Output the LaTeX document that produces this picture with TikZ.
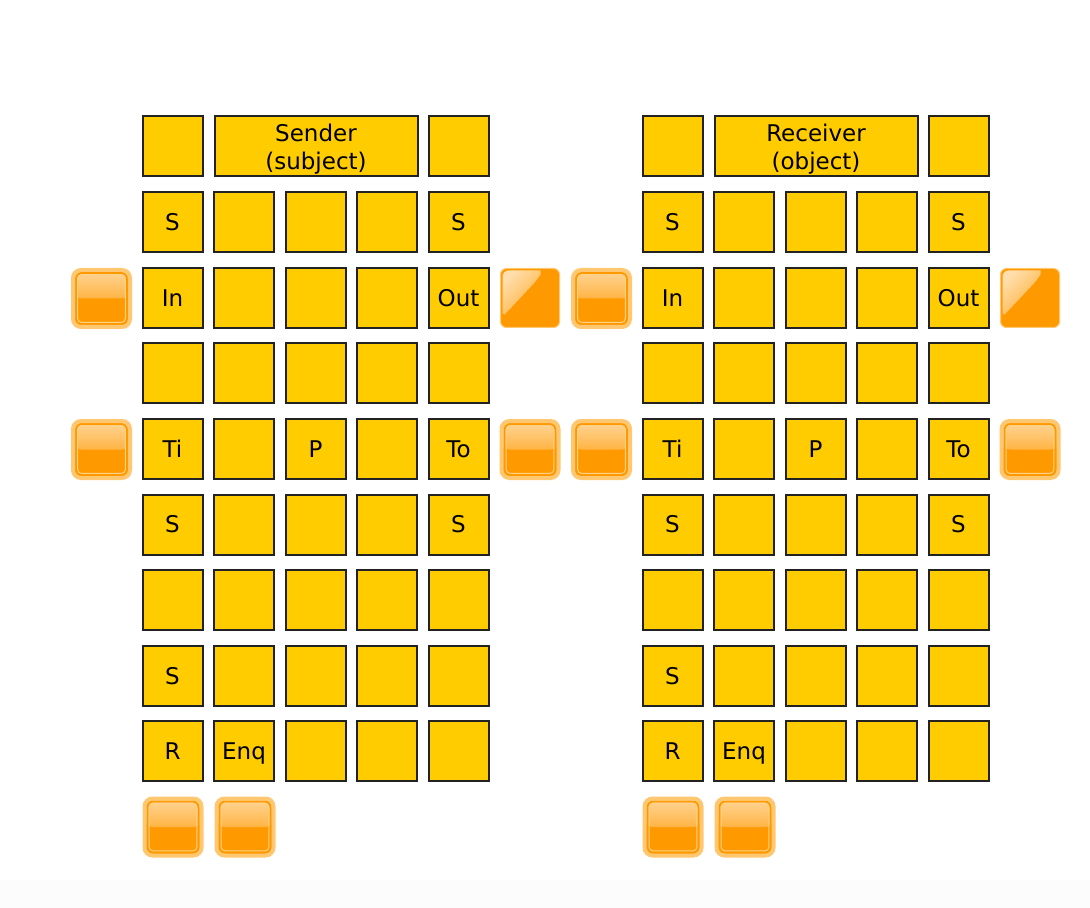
\documentclass[tikz,border=0pt]{standalone}
\usepackage{fontspec}
\setmainfont{DejaVu Sans}
\usetikzlibrary{calc}
\definecolor{cellfill}{HTML}{FFCC00}
\definecolor{cellline}{HTML}{222222}
\definecolor{btndark}{HTML}{FF9900}
\definecolor{btnhalo}{HTML}{FFC770}
\definecolor{btntop}{HTML}{FFD699}
\definecolor{btnmid}{HTML}{FFB443}
\definecolor{btnglow}{HTML}{FFD28A}
\definecolor{shine}{HTML}{FFEBCC}
\definecolor{bgstrip}{HTML}{FCFCFC}
\tikzset{
  cell/.style={draw=cellline, fill=cellfill, line width=1pt, minimum size=30pt,
    inner sep=0pt, align=center, font=\fontsize{11.5}{14}\selectfont},
  celltext/.style={text height=8.4pt, text depth=0pt},
  btn/.style={draw=btnhalo, fill=btndark, line width=2pt, rounded corners=4pt,
    minimum size=28.5pt, inner sep=0pt,
    path picture={
      \coordinate (p) at (path picture bounding box.north west);
      \coordinate (q) at (path picture bounding box.south east);
      \shade[top color=btntop, bottom color=btnmid] (p) rectangle ($(q)+(0,14.25pt)$);
      \draw[btndark, line width=1pt, rounded corners=3pt] ($(p)+(1.5pt,-1.5pt)$) rectangle ($(q)+(-1.5pt,1.5pt)$);
      \draw[btnglow, line width=0.5pt, rounded corners=2pt] ($(p)+(2.3pt,-2.3pt)$) rectangle ($(q)+(-2.3pt,2.3pt)$);
    }},
  btnflat/.style={draw=btnhalo, fill=btndark, line width=0.5pt, rounded corners=3pt,
    minimum size=29.5pt, inner sep=0pt,
    path picture={
      \coordinate (p) at (path picture bounding box.north west);
      \shade[top color=shine, bottom color=btnmid, shading angle=45, opacity=0.85]
        ($(p)+(1pt,-1pt)$) -- ($(p)+(17pt,-1pt)$)
        .. controls ($(p)+(20pt,-1pt)$) and ($(p)+(20pt,-3pt)$) .. ($(p)+(18.5pt,-5.5pt)$)
        -- ($(p)+(4pt,-21pt)$)
        .. controls ($(p)+(2.5pt,-22.5pt)$) and ($(p)+(1pt,-22pt)$) .. ($(p)+(1pt,-20pt)$) -- cycle;
    }},
}
\begin{document}
\begin{tikzpicture}[x=0.5pt,y=-0.5pt]
  \useasboundingbox (0,0) rectangle (1090,908);
  \fill[bgstrip] (0,880) rectangle (1090,908);

  \foreach \sd/\dx/\title in {s/0/{Sender\\(subject)},r/500/{Receiver\\(object)}}{
    \node[cell] (\sd-0-0) at (172.5+\dx,146.5) {};
    \node[cell,minimum width=101.5pt,text depth=0pt] (\sd-head) at (316+\dx,146.5) {\title};
    \node[cell] (\sd-0-4) at (458.5+\dx,146.5) {};
    \foreach \r/\labels in {1/{S,{},{},{},S},2/{In,{},{},{},Out},3/{{},{},{},{},{}},
        4/{Ti,{},P,{},To},5/{S,{},{},{},S},6/{{},{},{},{},{}},7/{S,{},{},{},{}},8/{R,Enq,{},{},{}}}
      \foreach \t [count=\c from 0] in \labels
        \node[cell,celltext] (\sd-\r-\c) at (172.5+71.5*\c+\dx,146.5+75.6*\r) {\t};

    \node[btn] (\sd-in) at (101.5+\dx,298.5) {};
    \node[btnflat] (\sd-out) at (530+\dx,298) {};
    \node[btn] (\sd-ti) at (101.5+\dx,449.5) {};
    \node[btn] (\sd-to) at (530+\dx,449.5) {};
    \node[btn] (\sd-b1) at (173+\dx,827) {};
    \node[btn] (\sd-b2) at (245+\dx,827) {};
  }
\end{tikzpicture}
\end{document}
